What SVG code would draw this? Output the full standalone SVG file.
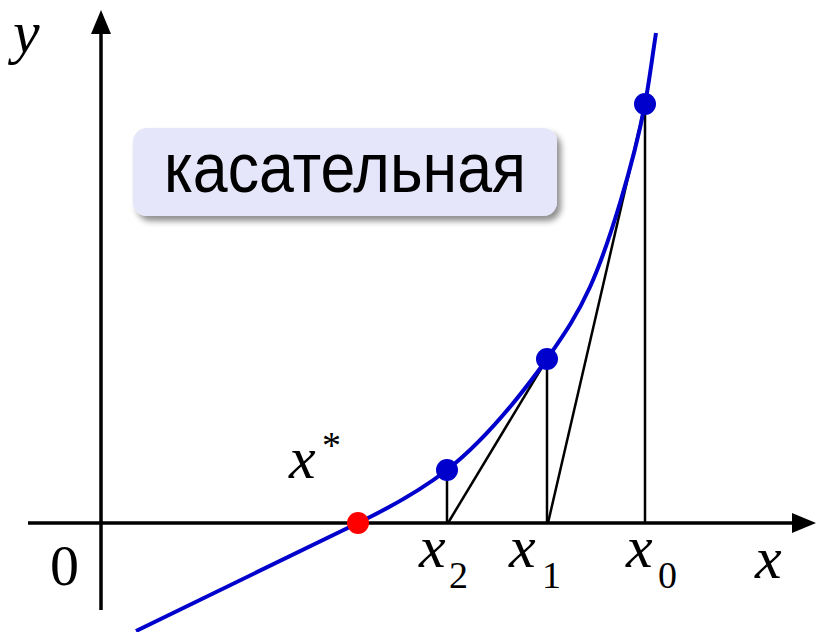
<svg xmlns="http://www.w3.org/2000/svg" width="817" height="632" viewBox="0 0 817 632">
<defs>
<filter id="sh" x="-10%" y="-20%" width="130%" height="150%">
<feGaussianBlur in="SourceAlpha" stdDeviation="3"/>
<feOffset dx="4" dy="5" result="b"/>
<feComponentTransfer><feFuncA type="linear" slope="0.45"/></feComponentTransfer>
<feMerge><feMergeNode/><feMergeNode in="SourceGraphic"/></feMerge>
</filter>
</defs>
<style>
.ax{stroke:#000;stroke-width:3.5;fill:none}
.thin{stroke:#000;stroke-width:2.5;fill:none}
.curve{stroke:#0000cc;stroke-width:4;fill:none}
.pt{fill:#0000cc}
.mi{font-family:"Liberation Serif","Times New Roman",serif;font-style:italic;font-size:60px;fill:#000}
.sub{font-family:"Liberation Serif","Times New Roman",serif;font-size:38px;fill:#000}
.zero{font-family:"Liberation Serif","Times New Roman",serif;font-size:58px;fill:#000}
</style>
<g id="axes">
<line class="ax" x1="101" y1="610" x2="101" y2="30"/>
<polygon points="101,10 91,34 111,34" fill="#000"/>
<line class="ax" x1="28" y1="523" x2="795" y2="523"/>
<polygon points="816,523 792,513 792,533" fill="#000"/>
</g>
<g id="connectors">
<line class="thin" x1="447" y1="470" x2="447" y2="523"/>
<line class="thin" x1="547" y1="359" x2="547" y2="523"/>
<line class="thin" x1="645" y1="104" x2="645" y2="523"/>
<line class="thin" x1="645" y1="104" x2="548" y2="523"/>
<line class="thin" x1="547" y1="359" x2="448" y2="523"/>
</g>
<g id="curve">
<path class="curve" d="M136,631 L358,523 C387.7,508.6 417.3,493.1 447,470 C480.3,444 513.7,405.3 547,359 C561.3,338.2 575.7,318.5 590,287 C600,265 610,236 620,203 C628.3,175.5 636.7,147.3 645,104 C648.7,85 652.3,56.7 656,33"/>
</g>
<g id="points">
<circle class="pt" cx="447" cy="470" r="11"/>
<circle class="pt" cx="547" cy="359" r="11"/>
<circle class="pt" cx="645" cy="104" r="11"/>
<circle cx="358" cy="523" r="11" fill="#ff0000"/>
</g>
<g id="label">
<rect x="133" y="128" width="424" height="88" rx="14" fill="#e6e6fa" filter="url(#sh)"/>
<text x="164" y="192" textLength="362" lengthAdjust="spacingAndGlyphs" font-family="'Liberation Sans',Arial,sans-serif" font-size="71" fill="#000">касательная</text>
</g>
<g id="labels">
<text class="mi" x="13" y="52">y</text>
<text class="mi" x="755" y="578">x</text>
<text class="zero" x="50" y="585">0</text>
<text class="mi" x="289" y="478">x</text>
<text class="sub" x="322" y="458">*</text>
<text class="mi" x="419" y="567">x</text>
<text class="sub" x="449" y="588">2</text>
<text class="mi" x="509" y="567">x</text>
<text class="sub" x="542" y="588">1</text>
<text class="mi" x="626" y="567">x</text>
<text class="sub" x="658" y="588">0</text>
</g>
</svg>
